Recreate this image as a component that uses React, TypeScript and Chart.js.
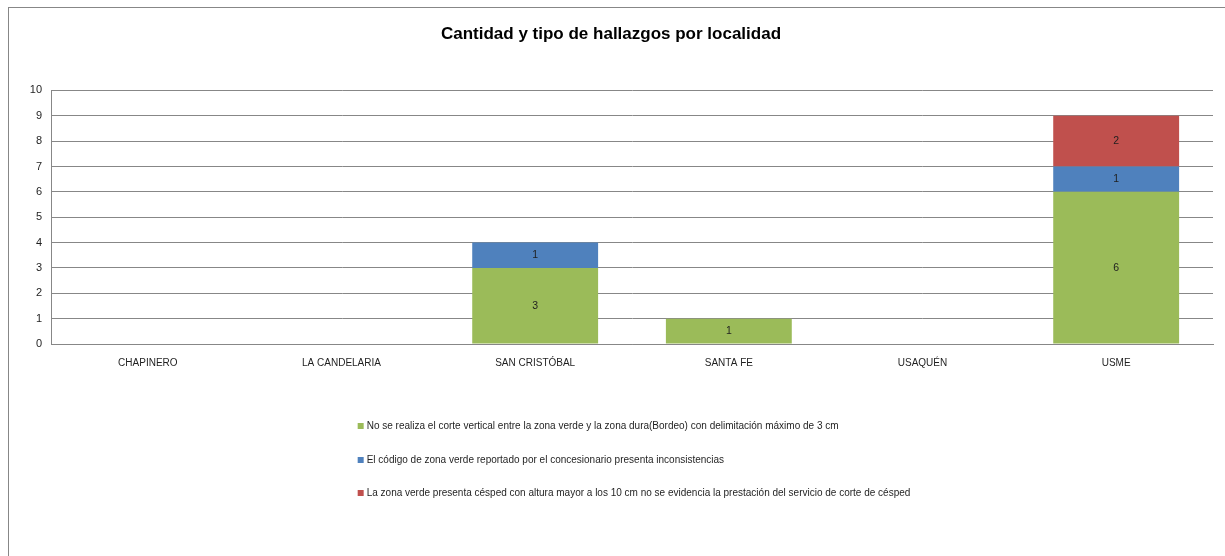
import React, { useEffect, useRef } from "react";
import { Chart, registerables } from "chart.js";

Chart.register(...registerables);

const TITLE = "Cantidad y tipo de hallazgos por localidad";
const categories = ["CHAPINERO", "LA CANDELARIA", "SAN CRISTÓBAL", "SANTA FE", "USAQUÉN", "USME"];
const seriesLabels = [
  "No se realiza el corte vertical entre la zona verde y la zona dura(Bordeo) con delimitación máximo de 3 cm",
  "El código de zona verde reportado por el concesionario presenta inconsistencias",
  "La zona verde presenta césped con altura mayor a los 10 cm no se evidencia la prestación del servicio de corte de césped",
];
const corteVertical = [null, null, 3, 1, null, 6];
const codigoZona = [null, null, 1, null, null, 1];
const cespedAlto = [null, null, null, null, null, 2];
const yTicks = [0, 1, 2, 3, 4, 5, 6, 7, 8, 9, 10];
const seriesColors = ["#9BBB59", "#4F81BD", "#C0504D"];

const FONT = "'Liberation Sans', Arial, sans-serif";
const GRID = "#878787";
const TEXT = "#1f1f1f";

const valueLabels = {
  id: "valueLabels",
  afterDatasetsDraw(chart: any) {
    const ctx = chart.ctx;
    ctx.save();
    ctx.font = `10.5px ${FONT}`;
    ctx.fillStyle = TEXT;
    ctx.textAlign = "center";
    ctx.textBaseline = "middle";
    chart.data.datasets.forEach((ds: any, di: number) => {
      const meta = chart.getDatasetMeta(di);
      meta.data.forEach((el: any, i: number) => {
        const v = ds.data[i];
        if (v === null || v === undefined) return;
        ctx.fillText(String(v), el.x, (el.y + el.base) / 2);
      });
    });
    ctx.restore();
  },
};

const columnLegend = {
  id: "columnLegend",
  afterDraw(chart: any) {
    const ctx = chart.ctx;
    const area = chart.chartArea;
    ctx.save();
    ctx.font = `10px ${FONT}`;
    const box = 6;
    const gap = 3;
    const widths = chart.data.datasets.map((ds: any) => box + gap + ctx.measureText(ds.label).width);
    const maxW = Math.max(...widths);
    const left = (area.left + area.right) / 2 - maxW / 2 + 2;
    const offsets = [82, 116, 149];
    chart.data.datasets.forEach((ds: any, i: number) => {
      const y = area.bottom + offsets[i];
      ctx.fillStyle = ds.backgroundColor;
      ctx.fillRect(left, y - box / 2, box, box);
      ctx.fillStyle = TEXT;
      ctx.textAlign = "left";
      ctx.textBaseline = "middle";
      ctx.fillText(ds.label, left + box + gap, y);
    });
    ctx.restore();
  },
};

export default function App() {
  const ref = useRef<HTMLCanvasElement>(null);
  useEffect(() => {
    if (!ref.current) return;
    const seriesData = [corteVertical, codigoZona, cespedAlto];
    const chart = new Chart(ref.current, {
      type: "bar",
      data: {
        labels: categories,
        datasets: seriesLabels.map((label, i) => ({
          label,
          data: seriesData[i],
          backgroundColor: seriesColors[i],
          borderWidth: 0,
          categoryPercentage: 1,
          barPercentage: 0.65,
        })),
      },
      options: {
        animation: false,
        responsive: false,
        maintainAspectRatio: false,
        layout: { padding: { left: 0, right: 12, top: 0, bottom: 182 } },
        plugins: {
          legend: { display: false },
          tooltip: { enabled: false },
          title: {
            display: true,
            text: TITLE,
            color: "#000",
            font: { family: FONT, size: 17, weight: "bold" },
            padding: { top: 16, bottom: 46 },
          },
        },
        scales: {
          x: {
            stacked: true,
            grid: { display: false, drawTicks: false },
            border: { display: true, color: GRID, width: 1 },
            ticks: { color: TEXT, font: { family: FONT, size: 10 }, padding: 13, maxRotation: 0 },
            afterFit: (s: any) => { s.height = 30; },
          },
          y: {
            stacked: true,
            min: 0,
            max: 10,
            afterBuildTicks: (s: any) => { s.ticks = yTicks.map((v) => ({ value: v })); },
            grid: { color: GRID, lineWidth: 1, drawTicks: false },
            border: { display: true, color: GRID, width: 1 },
            ticks: { color: TEXT, font: { family: FONT, size: 11 }, padding: 9 },
            afterFit: (s: any) => { s.width = 42; },
          },
        },
      },
      plugins: [valueLabels, columnLegend],
    });
    return () => chart.destroy();
  }, []);
  return (
    <div
      style={{
        position: "absolute",
        left: 8,
        top: 7,
        width: 1217,
        height: 549,
        borderLeft: `1px solid ${GRID}`,
        borderTop: `1px solid ${GRID}`,
        background: "#fff",
        overflow: "hidden",
      }}
    >
      <canvas ref={ref} width={1216} height={548} style={{ display: "block" }} />
    </div>
  );
}
